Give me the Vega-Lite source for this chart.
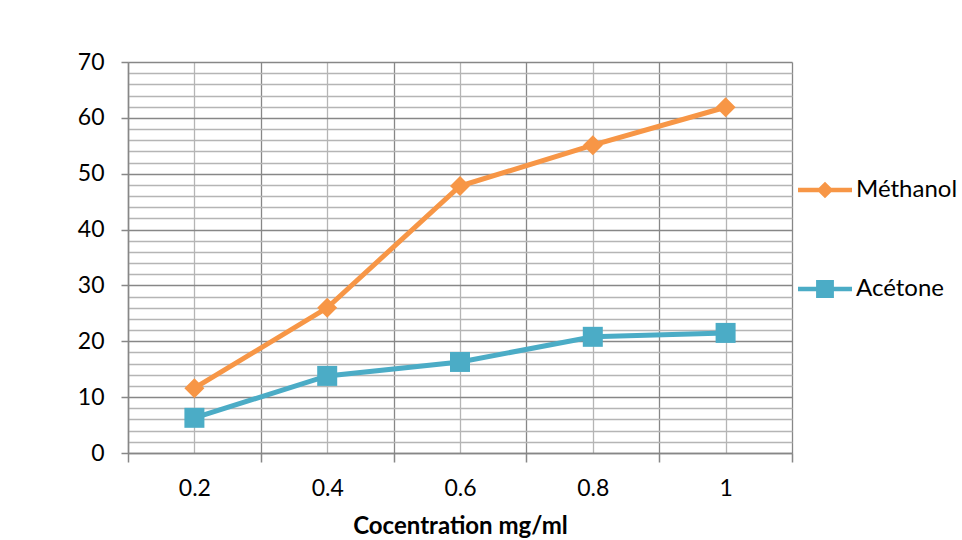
{
  "$schema": "https://vega.github.io/schema/vega-lite/v6.json",
  "width": 664,
  "height": 391,
  "autosize": {"type": "none"},
  "padding": {"left": 128, "top": 62, "right": 170, "bottom": 87},
  "background": "white",
  "config": {
    "font": "Lato",
    "view": {"stroke": null},
    "axis": {"labelFont": "Lato", "titleFont": "Lato"}
  },
  "data": {
    "values": [
      {"conc": 0.2, "value": 11.6, "series": "Méthanol"},
      {"conc": 0.4, "value": 26.0, "series": "Méthanol"},
      {"conc": 0.6, "value": 47.8, "series": "Méthanol"},
      {"conc": 0.8, "value": 55.1, "series": "Méthanol"},
      {"conc": 1.0, "value": 61.9, "series": "Méthanol"},
      {"conc": 0.2, "value": 6.3, "series": "Acétone"},
      {"conc": 0.4, "value": 13.8, "series": "Acétone"},
      {"conc": 0.6, "value": 16.3, "series": "Acétone"},
      {"conc": 0.8, "value": 20.8, "series": "Acétone"},
      {"conc": 1.0, "value": 21.5, "series": "Acétone"}
    ]
  },
  "layer": [
    {
      "mark": {"type": "line", "strokeWidth": 5},
      "encoding": {
        "x": {"field": "conc", "type": "quantitative",
          "scale": {"domain": [0.1, 1.1], "nice": false, "zero": false},
          "axis": {"orient": "bottom", "values": [0.2, 0.4, 0.6, 0.8, 1.0],
            "grid": true, "gridColor": "#b5b5b5", "gridWidth": 1.3,
            "domain": false, "ticks": false, "tickSize": 0,
            "labelPadding": 24, "labelFontSize": 23, "labelColor": "#000000",
            "labelExpr": "datum.value == 1 ? '1' : format(datum.value, '.1f')",
            "title": "Cocentration mg/ml", "titleFontSize": 24, "titleFontWeight": "bold",
            "titleColor": "#000000", "titlePadding": 14}},
        "y": {"field": "value", "type": "quantitative",
          "scale": {"domain": [0, 70], "nice": false},
          "axis": {"orient": "left", "values": [2,4,6,8,12,14,16,18,22,24,26,28,32,34,36,38,42,44,46,48,52,54,56,58,62,64,66,68],
            "grid": true, "gridColor": "#b5b5b5", "gridWidth": 1.3,
            "domain": false, "ticks": false, "labels": false, "title": null}},
        "color": {"field": "series", "type": "nominal",
          "scale": {"domain": ["Méthanol", "Acétone"], "range": ["#F79646", "#4BACC6"]},
          "legend": {
            "title": null,
            "orient": "none",
            "legendX": 670,
            "legendY": 101,
            "padding": 0,
            "rowPadding": 60,
            "symbolSize": 2916,
            "labelOffset": 4,
            "labelFont": "Lato",
            "labelFontSize": 24,
            "labelColor": "#000000",
            "encode": {
              "symbols": {
                "update": {
                  "shape": {"signal": "datum.value === 'Méthanol' ? 'M-1,-0.08H1V0.08H-1Z M0,-0.31L0.31,0L0,0.31L-0.31,0Z' : 'M-1,-0.08H1V0.08H-1Z M-0.33,-0.33H0.33V0.33H-0.33Z'"},
                  "fill": {"scale": "color", "field": "value"},
                  "stroke": {"value": "transparent"},
                  "strokeWidth": {"value": 0},
                  "opacity": {"value": 1}
                }
              }
            }
          }}
      }
    },
    {
      "transform": [{"filter": "datum.series === 'Méthanol'"}],
      "mark": {"type": "point", "filled": true, "opacity": 1, "shape": "diamond", "size": 400},
      "encoding": {
        "x": {"field": "conc", "type": "quantitative",
          "axis": {"orient": "bottom", "values": [0.1, 0.3, 0.5, 0.7, 0.9, 1.1],
            "grid": true, "gridColor": "#878787", "gridWidth": 1.3,
            "domain": true, "domainColor": "#878787", "domainWidth": 1.5,
            "ticks": true, "tickColor": "#878787", "tickSize": 9, "tickWidth": 1.5,
            "labels": false, "title": null}},
        "y": {"field": "value", "type": "quantitative",
          "axis": {"orient": "left", "values": [0,10,20,30,40,50,60,70],
            "grid": true, "gridColor": "#878787", "gridWidth": 1.3,
            "domain": true, "domainColor": "#878787", "domainWidth": 1.5,
            "ticks": true, "tickColor": "#878787", "tickSize": 7, "tickWidth": 1.5,
            "labelPadding": 17, "labelFontSize": 23, "labelColor": "#000000", "title": null}},
        "color": {"field": "series", "type": "nominal", "legend": null}
      }
    },
    {
      "transform": [{"filter": "datum.series === 'Acétone'"}],
      "mark": {"type": "point", "filled": true, "opacity": 1, "shape": "square", "size": 400},
      "encoding": {
        "x": {"field": "conc", "type": "quantitative", "axis": null},
        "y": {"field": "value", "type": "quantitative", "axis": null},
        "color": {"field": "series", "type": "nominal", "legend": null}
      }
    }
  ],
  "resolve": {"axis": {"x": "independent", "y": "independent"}}
}
